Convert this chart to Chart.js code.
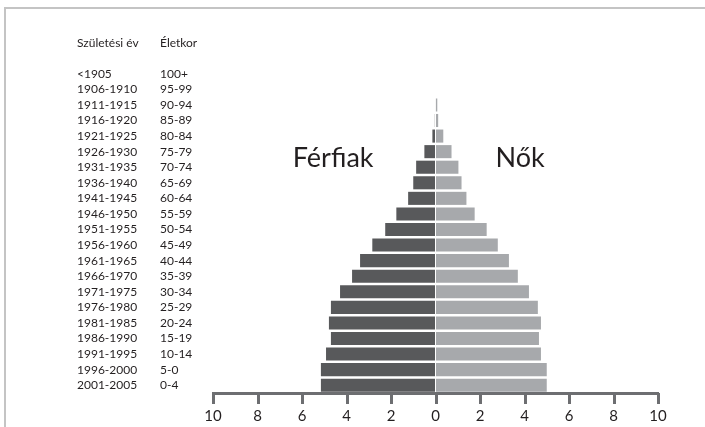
<!DOCTYPE html>
<html>
<head>
<meta charset="utf-8">
<script src="https://cdn.jsdelivr.net/npm/chart.js@4"></script>
<style>
  html, body { margin: 0; padding: 0; background: #fff; }
  #wrap { position: relative; width: 705px; height: 427px; }
  #frame { position: absolute; left: 4px; top: 7px; right: 0; bottom: 0;
           border-top: 2px solid #c4c4c4; border-left: 2px solid #c4c4c4; }
  canvas { position: absolute; left: 0; top: 0; }
</style>
</head>
<body>
<div id="wrap">
  <div id="frame"></div>
  <canvas id="pyramid" width="705" height="427"></canvas>
</div>
<script>
const MEN = "#58595b";
const WOMEN = "#a7a9ac";
const AXIS = "#6d6e71";
const INK = "#231f20";
const FONT = "Lato, 'Open Sans', sans-serif";

const birthYears = ["<1905", "1906-1910", "1911-1915", "1916-1920", "1921-1925", "1926-1930",
  "1931-1935", "1936-1940", "1941-1945", "1946-1950", "1951-1955", "1956-1960", "1961-1965",
  "1966-1970", "1971-1975", "1976-1980", "1981-1985", "1986-1990", "1991-1995", "1996-2000",
  "2001-2005"];
const ages = ["100+", "95-99", "90-94", "85-89", "80-84", "75-79", "70-74", "65-69", "60-64",
  "55-59", "50-54", "45-49", "40-44", "35-39", "30-34", "25-29", "20-24", "15-19", "10-14",
  "5-0", "0-4"];

// percent of population, same order as the rows (oldest on top)
const men = [0, 0, 0.02, 0.03, 0.14, 0.5, 0.87, 1.0, 1.23, 1.76, 2.26, 2.84, 3.39, 3.75,
  4.29, 4.7, 4.79, 4.7, 4.92, 5.15, 5.15];
const women = [0, 0, 0.08, 0.12, 0.35, 0.72, 1.03, 1.17, 1.39, 1.76, 2.3, 2.8, 3.3, 3.7,
  4.2, 4.6, 4.74, 4.65, 4.74, 5.0, 5.0];

const xTicks = [-10, -8, -6, -4, -2, 0, 2, 4, 6, 8, 10];
const headers = { y: "Születési év", y2: "Életkor" };
const sideLabels = [
  { text: "Férfiak", x: -4.6, row: 5.4 },
  { text: "Nők", x: 3.8, row: 5.4 },
];

// tick marks under the axis, headers above the label columns, the big side titles
const textPlugin = {
  id: "texts",
  afterDraw(chart) {
    const ctx = chart.ctx;
    const y = chart.scales.y;
    const x = chart.scales.x;
    const step = y.getPixelForValue(1) - y.getPixelForValue(0);
    ctx.save();
    ctx.strokeStyle = AXIS;
    ctx.lineWidth = 3;
    xTicks.forEach((v) => {
      const px = Math.round(x.getPixelForValue(v)) + 0.5;
      ctx.beginPath();
      ctx.moveTo(px, x.top);
      ctx.lineTo(px, x.top + 11);
      ctx.stroke();
    });
    ctx.fillStyle = INK;
    ctx.textBaseline = "middle";
    ctx.textAlign = "left";
    ctx.font = "12px " + FONT;
    for (const id in headers) {
      const s = chart.scales[id];
      ctx.fillText(headers[id], s.left, y.getPixelForValue(0) - 2 * step);
    }
    ctx.textAlign = "center";
    ctx.font = "27px " + FONT;
    sideLabels.forEach((l) => {
      ctx.fillText(l.text, x.getPixelForValue(l.x), y.getPixelForValue(l.row));
    });
    ctx.restore();
  },
};

new Chart(document.getElementById("pyramid"), {
  type: "bar",
  data: {
    labels: birthYears,
    datasets: [
      { label: "Férfiak", data: men.map((v) => -v), backgroundColor: MEN },
      { label: "Nők", data: women, backgroundColor: WOMEN },
    ],
  },
  options: {
    indexAxis: "y",
    responsive: false,
    animation: false,
    layout: { padding: { left: 77, right: 47, top: 66, bottom: 0 } },
    datasets: { bar: { barPercentage: 0.84, categoryPercentage: 1 } },
    plugins: { legend: { display: false }, tooltip: { enabled: false } },
    scales: {
      x: {
        type: "linear",
        min: -10,
        max: 10,
        stacked: true,
        afterBuildTicks: (s) => { s.ticks = xTicks.map((v) => ({ value: v })); },
        afterFit: (s) => { s.height = 34; },
        border: { display: true, width: 3, color: AXIS },
        grid: { drawOnChartArea: false, drawTicks: true, tickLength: 10, tickWidth: 0 },
        ticks: { color: INK, font: { family: FONT, size: 15 }, padding: 4, callback: (v) => Math.abs(v) },
      },
      y: {
        stacked: true,
        position: "left",
        weight: 2,
        afterFit: (s) => { s.width = 83; },
        border: { display: false },
        grid: { display: false },
        ticks: { color: INK, crossAlign: "far", font: { family: FONT, size: 12 }, autoSkip: false },
      },
      y2: {
        type: "category",
        labels: ages,
        position: "left",
        weight: 1,
        afterFit: (s) => { s.width = 53; },
        border: { display: false },
        grid: { display: false },
        ticks: { color: INK, crossAlign: "far", font: { family: FONT, size: 12 }, autoSkip: false },
      },
    },
  },
  plugins: [textPlugin],
});
</script>
</body>
</html>
